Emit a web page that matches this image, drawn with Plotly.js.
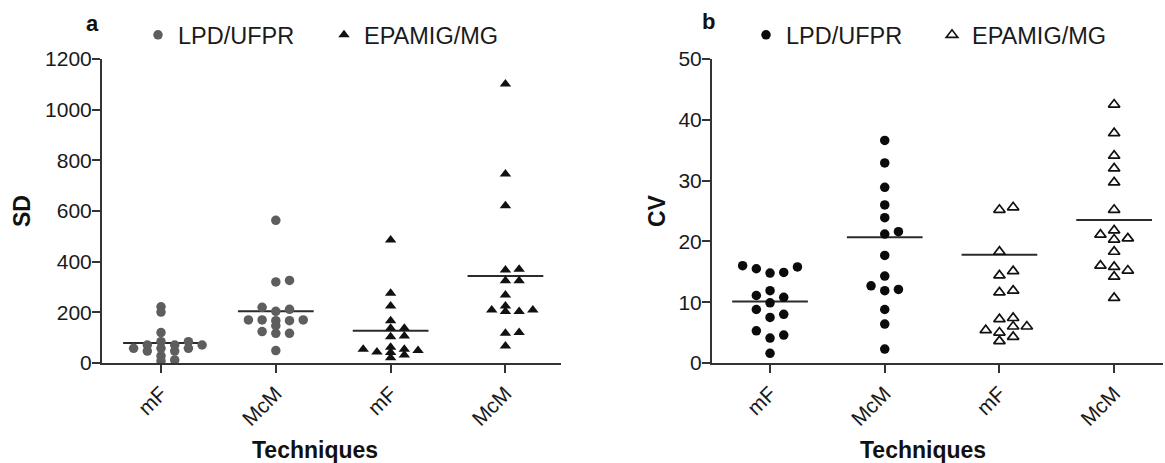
<!DOCTYPE html>
<html>
<head>
<meta charset="utf-8">
<script src="https://cdn.plot.ly/plotly-3.0.1.min.js"></script>
<style>html,body{margin:0;padding:0;background:#fff}</style>
</head>
<body>
<div id="chart" style="width:1165px;height:463px"></div>
<script>
// Groups along each x axis
const techniques = ['mF', 'McM', 'mF', 'McM'];

// SD per sample
const sdLpdMf = [222, 201, 120, 84, 84, 71, 71, 71, 58, 58, 58, 47, 47, 28, 12, 8];
const sdLpdMcm = [563, 326, 320, 220, 212, 204, 170, 170, 170, 167, 167, 147, 124, 117, 117, 49];
const sdEpamigMf = [486, 275, 225, 167, 137, 137, 107, 104, 62, 54, 54, 49, 43, 41, 32, 21];
const sdEpamigMcm = [1101, 746, 621, 370, 367, 325, 325, 268, 225, 209, 209, 203, 203, 120, 117, 67];
const sdBars = [79, 204, 127, 343];

// CV per sample
const cvLpdMf = [16.0, 15.8, 15.5, 14.9, 14.8, 11.9, 11.1, 10.8, 9.9, 8.8, 8.0, 7.5, 5.3, 4.6, 4.1, 1.6];
const cvLpdMcm = [36.6, 32.9, 28.9, 26.0, 23.9, 21.6, 21.2, 17.7, 14.3, 12.7, 12.1, 11.9, 8.8, 6.4, 2.3];
const cvEpamigMf = [25.6, 25.2, 18.3, 15.1, 14.4, 11.9, 11.6, 7.4, 7.2, 6.0, 6.0, 5.4, 5.0, 4.3, 3.6];
const cvEpamigMcm = [42.5, 37.8, 34.1, 32.0, 29.7, 25.2, 21.8, 21.1, 20.5, 20.3, 18.3, 16.0, 15.8, 15.2, 14.2, 10.7];
const cvBars = [10.1, 20.7, 17.8, 23.5];

const sdTicks = [0, 200, 400, 600, 800, 1000, 1200];
const cvTicks = [0, 10, 20, 30, 40, 50];

// ---- page geometry (pixels) ----
const W = 1165, H = 463;
const plotTop = 59, plotBottom = 363;
const panelA = {x0: 102, x1: 561, xr: [-0.514, 3.484], yr: [0, 1200], rowGap: 5};
const panelB = {x0: 712, x1: 1163, xr: [-0.506, 3.426], yr: [0, 50], rowGap: 8};

const FONT = 'Liberation Sans, Arial, Helvetica, sans-serif';

// Spread points sideways so that the dots do not pile up (dot-plot layout)
function swarm(values, centre, panel) {
  const pxY = (plotBottom - plotTop) / (panel.yr[1] - panel.yr[0]);
  const pxX = (panel.x1 - panel.x0) / (panel.xr[1] - panel.xr[0]);
  const slot = 13.7, rowGap = panel.rowGap, half = slot / 2;
  const order = values.map((v, i) => i).sort((a, b) => values[a] - values[b]);
  const placed = [];
  const xs = new Array(values.length);
  order.forEach(i => {
    const py = values[i] * pxY;
    let chosen = 0;
    for (let k = 0; k < 60; k++) {
      const cand = Math.ceil(k / 2) * half * (k % 2 ? 1 : -1);
      const hit = placed.some(p => Math.abs(p.y - py) < rowGap && Math.abs(p.x - cand) < slot - 0.01);
      if (!hit) { chosen = cand; break; }
    }
    placed.push({x: chosen, y: py});
    xs[i] = centre + chosen / pxX;
  });
  return xs;
}

function groupTrace(groups, centres, panel, name, marker, axes, legend) {
  let x = [], y = [];
  groups.forEach((g, k) => {
    x = x.concat(swarm(g, centres[k], panel));
    y = y.concat(g);
  });
  return {type: 'scatter', mode: 'markers', name: name, x: x, y: y,
          xaxis: axes[0], yaxis: axes[1], legend: legend, marker: marker, hoverinfo: 'y'};
}

function barTrace(levels, axes) {
  const x = [], y = [];
  levels.forEach((v, i) => { x.push(i - 0.33, i + 0.33, null); y.push(v, v, null); });
  return {type: 'scatter', mode: 'lines', x: x, y: y, xaxis: axes[0], yaxis: axes[1],
          line: {color: '#2b2b2b', width: 2}, showlegend: false, hoverinfo: 'skip'};
}

const grey = {symbol: 'circle', size: 9.5, color: '#5e5e5e', line: {width: 0}};
const blackTri = {symbol: 'triangle-up', size: 10, color: '#111', line: {width: 0}};
const blackDot = {symbol: 'circle', size: 9.5, color: '#0b0b0b', line: {width: 0}};
const openTri = {symbol: 'triangle-up-open', size: 10, color: '#111', line: {width: 1.7, color: '#111'}};

const traces = [
  barTrace(sdBars, ['x', 'y']),
  groupTrace([sdLpdMf, sdLpdMcm], [0, 1], panelA, 'LPD/UFPR', grey, ['x', 'y'], 'legend'),
  groupTrace([sdEpamigMf, sdEpamigMcm], [2, 3], panelA, 'EPAMIG/MG', blackTri, ['x', 'y'], 'legend'),
  barTrace(cvBars, ['x2', 'y2']),
  groupTrace([cvLpdMf, cvLpdMcm], [0, 1], panelB, 'LPD/UFPR', blackDot, ['x2', 'y2'], 'legend2'),
  groupTrace([cvEpamigMf, cvEpamigMcm], [2, 3], panelB, 'EPAMIG/MG', openTri, ['x2', 'y2'], 'legend2')
];

const axisBase = {
  showline: true, linecolor: '#333', linewidth: 2,
  ticks: 'outside', ticklen: 8, tickwidth: 2, tickcolor: '#333',
  showgrid: false, zeroline: false, fixedrange: true,
  tickfont: {family: FONT, size: 21, color: '#1a1a1a'}
};
const yDomain = [(H - plotBottom) / H, (H - plotTop) / H];

function xAxis(panel, anchor) {
  return Object.assign({}, axisBase, {
    domain: [panel.x0 / W, panel.x1 / W], range: panel.xr, anchor: anchor,
    tickmode: 'array', tickvals: [0, 1, 2, 3], ticktext: techniques, tickangle: -45
  });
}
function yAxis(panel, anchor, ticks) {
  return Object.assign({}, axisBase, {
    domain: yDomain, range: panel.yr, anchor: anchor,
    tickmode: 'array', tickvals: ticks, ticklabelstandoff: -4
  });
}

function label(text, xpx, ypx, size, angle) {
  return {text: '<b>' + text + '</b>', xref: 'paper', yref: 'paper',
          x: xpx / W, y: (H - ypx) / H, xanchor: 'center', yanchor: 'middle',
          showarrow: false, textangle: angle || 0,
          font: {family: FONT, size: size, color: '#111'}};
}

const legendBase = {
  orientation: 'h', xanchor: 'left', yanchor: 'middle', entrywidth: 141,
  font: {family: FONT, size: 23.5, color: '#1a1a1a'},
  bgcolor: 'rgba(0,0,0,0)', borderwidth: 0, itemclick: false, itemdoubleclick: false
};

const layout = {
  width: W, height: H, margin: {l: 0, r: 0, t: 0, b: 0},
  paper_bgcolor: '#fff', plot_bgcolor: '#fff', showlegend: true,
  xaxis: xAxis(panelA, 'y'), yaxis: yAxis(panelA, 'x', sdTicks),
  xaxis2: xAxis(panelB, 'y2'), yaxis2: yAxis(panelB, 'x2', cvTicks),
  legend: Object.assign({}, legendBase, {x: 138 / W, y: (H - 35) / H}),
  legend2: Object.assign({}, legendBase, {x: 746 / W, y: (H - 35) / H}),
  annotations: [
    label('a', 92, 24, 22),
    label('b', 708, 22, 22),
    label('SD', 22, 211, 23, -90),
    label('CV', 657, 211, 23, -90),
    label('Techniques', 315, 450, 23),
    label('Techniques', 923, 450, 23)
  ]
};

Plotly.newPlot('chart', traces, layout, {displayModeBar: false, staticPlot: true});
</script>
</body>
</html>
